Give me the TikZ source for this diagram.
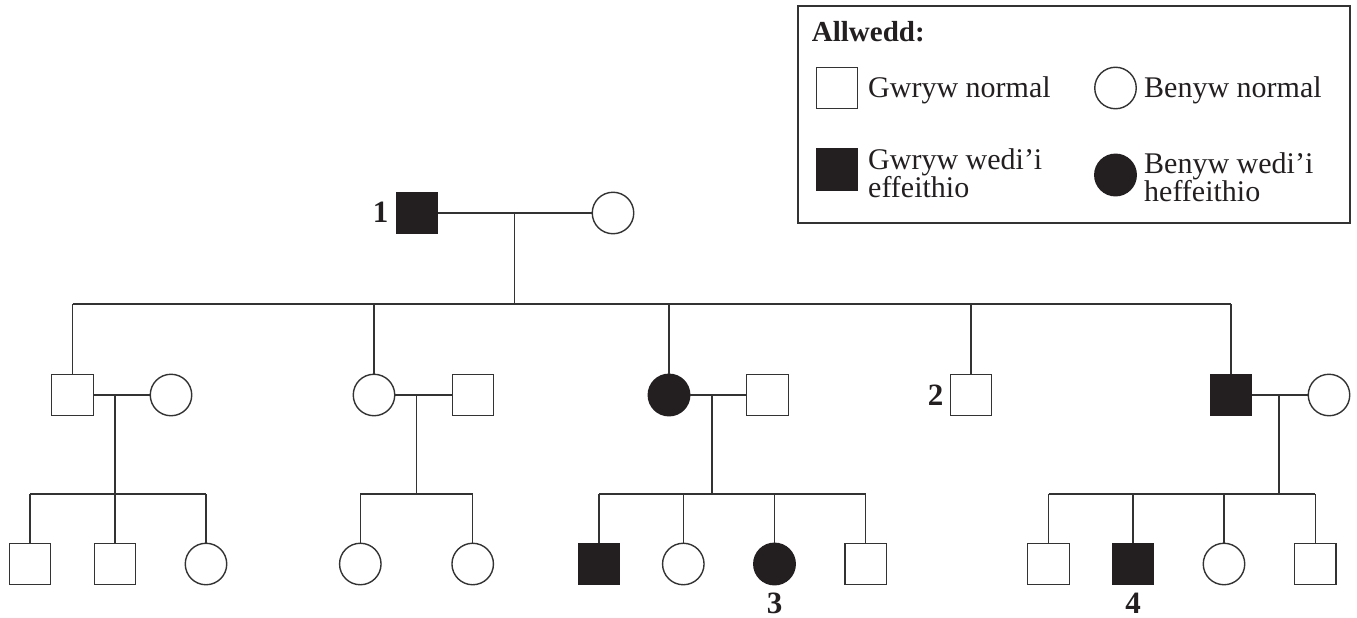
\documentclass[tikz,border=0pt]{standalone}
\usepackage{fontspec}
\setmainfont{Liberation Serif}
\definecolor{affc}{HTML}{231F20}
\definecolor{linec}{HTML}{333333}
\begin{document}
\begin{tikzpicture}[x=1pt,y=-1pt,
  male/.style={draw=linec, rectangle, minimum size=41.5pt, inner sep=0pt, line width=1.4pt, fill=white},
  female/.style={draw=linec, circle, minimum size=41.5pt, inner sep=0pt, line width=1.4pt, fill=white},
  aff/.style={fill=affc, draw=affc},
  lbl/.style={font=\fontsize{31}{31}\selectfont\bfseries, inner sep=0pt, text=affc},
  key/.style={font=\fontsize{30}{27}\selectfont, inner sep=0pt, align=left, text=affc},
  link/.style={draw=linec, line width=1.4pt}
]
\useasboundingbox (0,0) rectangle (1357,618);

% ---------- Legend ----------
\draw[link] (798,6) rectangle (1350,223);
\node[key, font=\fontsize{29}{27}\selectfont\bfseries, anchor=base west] (keytitle) at (811.7,42) {Allwedd:};
\node[male] (k1) at (837,88) {};
\node[key, anchor=base west] (k1t) at (868,97) {Gwryw normal};
\node[male,aff] (k2) at (837,169.5) {};
\node[key, anchor=north west] (k2t) at (868,148) {Gwryw wedi'i\\effeithio};
\node[female] (k3) at (1115.5,88) {};
\node[key, anchor=base west] (k3t) at (1144,97) {Benyw normal};
\node[female,aff] (k4) at (1115.5,175) {};
\node[key, anchor=north west] (k4t) at (1144,152) {Benyw wedi'i\\heffeithio};

% ---------- Generation I ----------
\node[male,aff] (g1m) at (417,213) {};
\node[female] (g1f) at (613,213) {};
\node[lbl] (n1) at (380.5,212.5) {1};
\coordinate (j1) at (514.5,213);
\coordinate (s1) at (514.5,304);

% ---------- Generation II ----------
\node[male] (a2m) at (72.5,395) {};
\node[female] (a2f) at (171,395) {};
\node[female] (b2f) at (374,395) {};
\node[male] (b2m) at (473,395) {};
\node[female,aff] (c2f) at (669,395) {};
\node[male] (c2m) at (767.5,395) {};
\node[male] (d2m) at (971,395) {};
\node[lbl] (n2) at (935.5,395) {2};
\node[male,aff] (e2m) at (1231,395) {};
\node[female] (e2f) at (1329,395) {};

\coordinate (ja) at (115,395);   \coordinate (sa) at (115,494);
\coordinate (jb) at (416.5,395); \coordinate (sb) at (416.5,494);
\coordinate (jc) at (712,395);   \coordinate (sc) at (712,494);
\coordinate (je) at (1279,395);  \coordinate (se) at (1279,494);

% ---------- Generation III ----------
\node[male] (a3a) at (30,564) {};
\node[male] (a3b) at (115,564) {};
\node[female] (a3c) at (206,564) {};
\node[female] (b3a) at (360.3,564) {};
\node[female] (b3b) at (472.7,564) {};
\node[male,aff] (c3a) at (599,564) {};
\node[female] (c3b) at (683.3,564) {};
\node[female,aff] (c3c) at (774.5,564) {};
\node[male] (c3d) at (865.7,564) {};
\node[lbl] (n3) at (774.5,603) {3};
\node[male] (e3a) at (1048.5,564) {};
\node[male,aff] (e3b) at (1133,564) {};
\node[female] (e3c) at (1224,564) {};
\node[male] (e3d) at (1315.3,564) {};
\node[lbl] (n4) at (1133,603) {4};

% ---------- Connectors ----------
\draw[link] (g1m.east) -- (g1f.west);
\draw[link] (j1) -- (s1);
\draw[link] (a2m.north |- s1) -- (e2m.north |- s1);
\foreach \c in {a2m,b2f,c2f,d2m,e2m} \draw[link] (\c.north |- s1) -- (\c.north);

\draw[link] (a2m.east) -- (a2f.west);
\draw[link] (b2f.east) -- (b2m.west);
\draw[link] (c2f.east) -- (c2m.west);
\draw[link] (e2m.east) -- (e2f.west);
\draw[link] (ja) -- (sa);
\draw[link] (jb) -- (sb);
\draw[link] (jc) -- (sc);
\draw[link] (je) -- (se);

\draw[link] (a3a.north |- sa) -- (a3c.north |- sa);
\foreach \c in {a3a,a3b,a3c} \draw[link] (\c.north |- sa) -- (\c.north);
\draw[link] (b3a.north |- sb) -- (b3b.north |- sb);
\foreach \c in {b3a,b3b} \draw[link] (\c.north |- sb) -- (\c.north);
\draw[link] (c3a.north |- sc) -- (c3d.north |- sc);
\foreach \c in {c3a,c3b,c3c,c3d} \draw[link] (\c.north |- sc) -- (\c.north);
\draw[link] (e3a.north |- se) -- (e3d.north |- se);
\foreach \c in {e3a,e3b,e3c,e3d} \draw[link] (\c.north |- se) -- (\c.north);
\end{tikzpicture}
\end{document}
